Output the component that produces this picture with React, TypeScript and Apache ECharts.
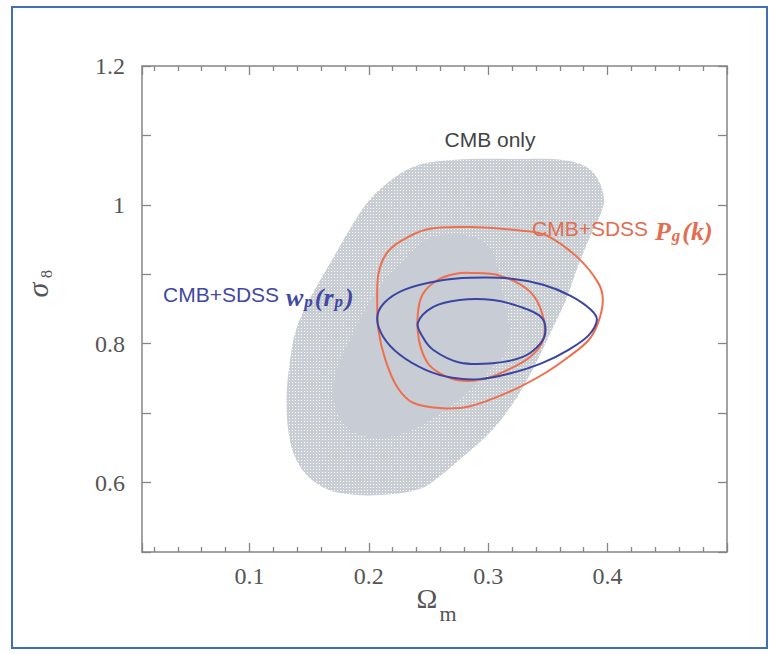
import React, { useEffect, useRef } from 'react';
import * as echarts from 'echarts';

// Axis ranges (Omega_m horizontally, sigma_8 vertically)
const xMin = 0.01;
const xMax = 0.5;
const yMin = 0.5;
const yMax = 1.2;
const yStep = 0.1;
const xLabelValues = [0.1, 0.2, 0.3, 0.4];
const yLabelValues = [0.6, 0.8, 1.0, 1.2];

// CMB only, 95% region (stippled)
const cmbOuter: [number, number][] = [
  [0.260, 1.063], [0.285, 1.066], [0.327, 1.066], [0.361, 1.065], [0.382, 1.055],
  [0.392, 1.037], [0.397, 1.008], [0.394, 0.986], [0.386, 0.957], [0.375, 0.911],
  [0.365, 0.863], [0.352, 0.815], [0.339, 0.769], [0.324, 0.723], [0.303, 0.675],
  [0.278, 0.636], [0.260, 0.610], [0.243, 0.591], [0.209, 0.582], [0.176, 0.585],
  [0.157, 0.598], [0.142, 0.624], [0.134, 0.660], [0.131, 0.718], [0.134, 0.776],
  [0.139, 0.820], [0.150, 0.863], [0.167, 0.914], [0.184, 0.965], [0.201, 1.008],
  [0.222, 1.040], [0.239, 1.056],
];

// CMB only, 68% region (solid)
const cmbInner: [number, number][] = [
  [0.257, 0.955], [0.285, 0.955], [0.302, 0.936], [0.310, 0.888], [0.316, 0.839],
  [0.318, 0.813], [0.313, 0.784], [0.302, 0.762], [0.285, 0.733], [0.260, 0.700],
  [0.229, 0.671], [0.201, 0.665], [0.180, 0.682], [0.171, 0.718], [0.173, 0.762],
  [0.184, 0.805], [0.197, 0.849], [0.212, 0.888], [0.229, 0.918], [0.243, 0.943],
];

// CMB + SDSS Pg(k): 95% and 68% contours
const pgOuter: [number, number][] = [
  [0.249, 0.965], [0.285, 0.968], [0.333, 0.962], [0.350, 0.955], [0.375, 0.924],
  [0.392, 0.888], [0.396, 0.863], [0.392, 0.830], [0.384, 0.805], [0.368, 0.782],
  [0.346, 0.756], [0.318, 0.731], [0.285, 0.710], [0.262, 0.707], [0.237, 0.715],
  [0.224, 0.737], [0.214, 0.776], [0.208, 0.820], [0.207, 0.863], [0.208, 0.900],
  [0.214, 0.928], [0.226, 0.947],
];
const pgInner: [number, number][] = [
  [0.285, 0.902], [0.310, 0.898], [0.335, 0.875], [0.346, 0.839], [0.346, 0.805],
  [0.335, 0.781], [0.316, 0.762], [0.296, 0.749], [0.276, 0.747], [0.260, 0.757],
  [0.249, 0.773], [0.242, 0.805], [0.241, 0.842], [0.245, 0.871], [0.257, 0.891],
  [0.271, 0.900],
];

// CMB + SDSS wp(rp): 95% and 68% contours
const wpOuter: [number, number][] = [
  [0.207, 0.837], [0.213, 0.859], [0.230, 0.878], [0.260, 0.891], [0.285, 0.895],
  [0.318, 0.894], [0.346, 0.885], [0.369, 0.869], [0.386, 0.849], [0.391, 0.834],
  [0.384, 0.812], [0.368, 0.792], [0.345, 0.772], [0.318, 0.757], [0.293, 0.749],
  [0.270, 0.751], [0.248, 0.762], [0.226, 0.784], [0.212, 0.810],
];
const wpInner: [number, number][] = [
  [0.241, 0.830], [0.254, 0.853], [0.276, 0.863], [0.304, 0.863], [0.327, 0.853],
  [0.344, 0.839], [0.348, 0.820], [0.344, 0.801], [0.329, 0.781], [0.304, 0.772],
  [0.276, 0.773], [0.254, 0.791], [0.245, 0.810],
];

const AXIS_COLOR = '#858585';
const LABEL_COLOR = '#555555';
const TICK_FONT = '"Liberation Serif", serif';
const SANS = '"Liberation Sans", Arial, sans-serif';
const MATH = '"Liberation Serif", "DejaVu Serif", serif';
const RED = '#ef6f4c';
const BLUE = '#3b44a2';

function isLabel(v: number, list: number[]) {
  return list.some((l) => Math.abs(l - v) < 1e-6);
}

function region(name: string, pts: [number, number][], style: any, z: number) {
  return {
    type: 'custom',
    name,
    coordinateSystem: 'cartesian2d',
    xAxisIndex: 0,
    yAxisIndex: 0,
    silent: true,
    z,
    clip: true,
    data: [pts[0]],
    renderItem: (_params: any, api: any) => ({
      type: 'polygon',
      shape: { points: pts.map((p) => api.coord(p)), smooth: 0.35 },
      style,
    }),
  };
}

function makeStipple(): any {
  try {
    const c = document.createElement('canvas');
    c.width = 3;
    c.height = 3;
    const ctx = c.getContext('2d');
    if (!ctx) return '#d3d6dc';
    ctx.fillStyle = '#c9cdd4';
    ctx.fillRect(0, 0, 3, 3);
    ctx.fillStyle = '#ffffff';
    ctx.fillRect(1, 1, 1, 1);
    return { image: c.toDataURL(), imageWidth: 3, imageHeight: 3, repeat: 'repeat' };
  } catch (e) {
    return '#d3d6dc';
  }
}

export default function App() {
  const ref = useRef<HTMLDivElement>(null);

  useEffect(() => {
    const chart = echarts.init(ref.current!, null, { renderer: 'svg' });

    const xAxisBase = {
      type: 'value',
      min: xMin,
      max: xMax,
      splitNumber: 5,
      splitLine: { show: false },
      axisLine: { show: true, onZero: false, lineStyle: { color: AXIS_COLOR, width: 1.5 } },
      axisTick: { show: true, inside: true, length: 9, lineStyle: { color: AXIS_COLOR, width: 1.3 } },
      minorTick: { show: true, splitNumber: 5, length: 5, lineStyle: { color: AXIS_COLOR, width: 1.3 } },
    };
    const yAxisBase = {
      type: 'value',
      min: yMin,
      max: yMax,
      interval: yStep,
      splitLine: { show: false },
      axisLine: { show: true, onZero: false, lineStyle: { color: AXIS_COLOR, width: 1.5 } },
      axisTick: { show: true, inside: true, length: 9, lineStyle: { color: AXIS_COLOR, width: 1.3 } },
    };

    const mathRich = (color: string) => ({
      n: { fontFamily: SANS, fontSize: 21, fill: color, lineHeight: 26, verticalAlign: 'top' },
      m: { fontFamily: MATH, fontSize: 26, fontStyle: 'italic', fontWeight: 'bold', fill: color, lineHeight: 26, verticalAlign: 'top', padding: [0, 1, 0, 1] },
      s: { fontFamily: MATH, fontSize: 17, fontStyle: 'italic', fontWeight: 'bold', fill: color, lineHeight: 12, verticalAlign: 'bottom', padding: [0, 1, 0, 0] },
    });

    const option: any = {
      animation: false,
      backgroundColor: '#ffffff',
      grid: { left: 142, top: 66, width: 585, height: 486, containLabel: false },
      xAxis: [
        {
          ...xAxisBase,
          position: 'bottom',
          axisLabel: {
            show: true,
            margin: 12,
            color: LABEL_COLOR,
            fontFamily: TICK_FONT,
            fontSize: 24,
            formatter: (v: number) => (isLabel(v, xLabelValues) ? String(Math.round(v * 10) / 10) : ''),
          },
        },
        { ...xAxisBase, position: 'top', axisLabel: { show: false } },
      ],
      yAxis: [
        {
          ...yAxisBase,
          position: 'left',
          axisLabel: {
            show: true,
            margin: 17,
            color: LABEL_COLOR,
            fontFamily: TICK_FONT,
            fontSize: 24,
            formatter: (v: number) => (isLabel(v, yLabelValues) ? String(Math.round(v * 10) / 10) : ''),
          },
        },
        { ...yAxisBase, position: 'right', axisLabel: { show: false } },
      ],
      series: [
        region('CMB only 95%', cmbOuter, { fill: makeStipple(), stroke: 'none' }, 1),
        region('CMB only 68%', cmbInner, { fill: '#c8ccd4', stroke: 'none' }, 2),
        region('CMB+SDSS Pg(k) 95%', pgOuter, { fill: 'none', stroke: RED, lineWidth: 2 }, 3),
        region('CMB+SDSS Pg(k) 68%', pgInner, { fill: 'none', stroke: RED, lineWidth: 2 }, 3),
        region('CMB+SDSS wp(rp) 95%', wpOuter, { fill: 'none', stroke: BLUE, lineWidth: 2 }, 4),
        region('CMB+SDSS wp(rp) 68%', wpInner, { fill: 'none', stroke: BLUE, lineWidth: 2 }, 4),
      ],
      graphic: [
        {
          type: 'rect',
          silent: true,
          shape: { x: 12, y: 7, width: 755, height: 641 },
          style: { fill: 'none', stroke: '#3f6fb6', lineWidth: 2 },
          z: 0,
        },
        {
          type: 'text',
          x: 490,
          y: 139,
          style: { text: 'CMB only', fill: '#444', font: `21px ${SANS}`, align: 'center', verticalAlign: 'middle' },
          z: 10,
        },
        {
          type: 'text',
          x: 532,
          y: 231,
          style: { text: '{n|CMB+SDSS }{m|P}{s|g}{m|(k)}', align: 'left', verticalAlign: 'middle', rich: mathRich('#e36d50') },
          z: 10,
        },
        {
          type: 'text',
          x: 163,
          y: 297,
          style: { text: '{n|CMB+SDSS }{m|w}{s|p}{m|(r}{s|p}{m|)}', align: 'left', verticalAlign: 'middle', rich: mathRich('#4149a3') },
          z: 10,
        },
        {
          type: 'text',
          x: 427,
          y: 598,
          style: { text: 'Ω', fill: '#555', font: `28px ${MATH}`, align: 'center', verticalAlign: 'middle' },
          z: 10,
        },
        {
          type: 'text',
          x: 448,
          y: 613,
          style: { text: 'm', fill: '#555', font: `22px ${MATH}`, align: 'center', verticalAlign: 'middle' },
          z: 10,
        },
        {
          type: 'text',
          x: 37,
          y: 290,
          rotation: Math.PI / 2,
          style: { text: 'σ', fill: '#555', font: `italic 30px ${MATH}`, align: 'center', verticalAlign: 'middle' },
          z: 10,
        },
        {
          type: 'text',
          x: 46,
          y: 274,
          rotation: Math.PI / 2,
          style: { text: '8', fill: '#555', font: `16px ${MATH}`, align: 'center', verticalAlign: 'middle' },
          z: 10,
        },
      ],
    };

    chart.setOption(option);
    return () => chart.dispose();
  }, []);

  return (
    <div
      ref={ref}
      style={{ position: 'fixed', left: 0, top: 0, width: 770, height: 654, background: '#ffffff' }}
    />
  );
}
